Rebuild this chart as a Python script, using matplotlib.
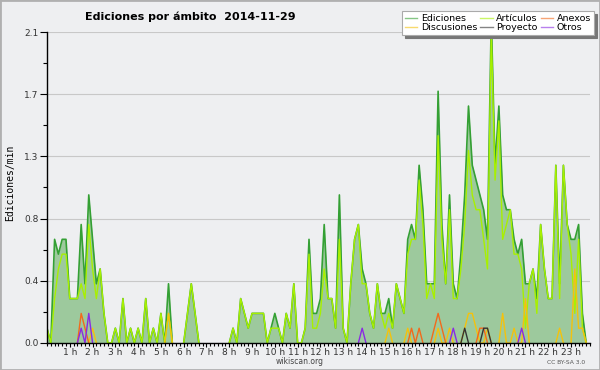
import numpy as np
import matplotlib
matplotlib.use('Agg')
import matplotlib.pyplot as plt
from matplotlib.lines import Line2D
from matplotlib.patches import Rectangle
import matplotlib.transforms as mtransforms

# ediciones/min en tramos de 10 minutos, desde 0:00 hasta 23:40 (dos horas por linea)
ediciones = [
    0.1, 0, 0.7, 0.6, 0.7, 0.7,   0.3, 0.3, 0.3, 0.8, 0.4, 1.0,
    0.7, 0.4, 0.5, 0.2, 0, 0,     0.1, 0, 0.3, 0, 0.1, 0,
    0.1, 0, 0.3, 0, 0.1, 0,       0.2, 0, 0.4, 0, 0, 0,
    0, 0.2, 0.4, 0.2, 0, 0,       0, 0, 0, 0, 0, 0,
    0, 0.1, 0, 0.3, 0.2, 0.1,     0.2, 0.2, 0.2, 0.2, 0, 0.1,
    0.2, 0.1, 0, 0.2, 0.1, 0.4,   0, 0, 0.1, 0.7, 0.2, 0.2,
    0.3, 0.8, 0.3, 0.3, 0.1, 1.0, 0.1, 0, 0.4, 0.7, 0.8, 0.5,
    0.4, 0.2, 0.1, 0.4, 0.2, 0.2, 0.3, 0.1, 0.4, 0.3, 0.2, 0.7,
    0.8, 0.7, 1.2, 0.9, 0.4, 0.4, 0.4, 1.7, 0.8, 0.4, 1.0, 0.4,
    0.3, 0.6, 1.0, 1.6, 1.2, 1.1, 1.0, 0.9, 0.7, 2.2, 1.2, 1.6,
    1.0, 0.9, 0.9, 0.7, 0.6, 0.7, 0.4, 0.4, 0.5, 0.3, 0.8, 0.5,
    0.3, 0.3, 1.2, 0.4, 1.2, 0.8, 0.7, 0.7, 0.8, 0.2, 0,
]
articulos = [
    0.1, 0, 0.3, 0.5, 0.6, 0.6,   0.3, 0.3, 0.3, 0.4, 0.3, 0.8,
    0.5, 0.3, 0.5, 0.2, 0, 0,     0.1, 0, 0.3, 0, 0.1, 0,
    0.1, 0, 0.3, 0, 0.1, 0,       0.2, 0, 0.2, 0, 0, 0,
    0, 0.2, 0.4, 0.2, 0, 0,       0, 0, 0, 0, 0, 0,
    0, 0.1, 0, 0.3, 0.2, 0.1,     0.2, 0.2, 0.2, 0.2, 0, 0.1,
    0.1, 0.1, 0, 0.2, 0.1, 0.4,   0, 0, 0.1, 0.6, 0.1, 0.1,
    0.2, 0.5, 0.3, 0.3, 0.1, 0.7, 0.1, 0, 0.4, 0.7, 0.8, 0.4,
    0.4, 0.2, 0.1, 0.4, 0.2, 0.1, 0.2, 0.1, 0.4, 0.3, 0.2, 0.6,
    0.7, 0.7, 1.1, 0.8, 0.3, 0.4, 0.3, 1.4, 0.7, 0.4, 0.9, 0.3,
    0.3, 0.5, 0.8, 1.3, 1.0, 0.9, 0.9, 0.7, 0.5, 2.1, 1.1, 1.5,
    0.7, 0.8, 0.9, 0.6, 0.6, 0.5, 0.1, 0.4, 0.5, 0.2, 0.8, 0.5,
    0.3, 0.3, 1.2, 0.3, 1.2, 0.8, 0.6, 0.2, 0.7, 0.1, 0,
]
discusiones = [
    0, 0, 0, 0, 0, 0,             0, 0, 0, 0, 0, 0,
    0.1, 0, 0, 0, 0, 0,           0, 0, 0, 0, 0, 0,
    0, 0, 0, 0, 0, 0,             0, 0, 0.2, 0, 0, 0,
    0, 0, 0, 0, 0, 0,             0, 0, 0, 0, 0, 0,
    0, 0, 0, 0, 0, 0,             0, 0, 0, 0, 0, 0,
    0, 0, 0, 0, 0, 0,             0, 0, 0, 0, 0, 0,
    0, 0, 0, 0, 0, 0,             0, 0, 0, 0, 0, 0,
    0, 0, 0, 0, 0, 0,             0.1, 0, 0, 0, 0, 0.1,
    0, 0, 0, 0, 0, 0,             0, 0.1, 0, 0, 0.1, 0,
    0, 0, 0.1, 0.2, 0.2, 0.1,     0, 0, 0.1, 0, 0, 0,
    0.2, 0, 0, 0.1, 0, 0,         0.3, 0, 0, 0, 0, 0,
    0, 0, 0, 0.1, 0, 0,           0, 0.5, 0.1, 0.1, 0,
]
anexos = [
    0, 0, 0, 0, 0, 0,             0, 0, 0, 0.2, 0.1, 0,
    0, 0, 0, 0, 0, 0,             0, 0, 0, 0, 0, 0,
    0, 0, 0, 0, 0, 0,             0, 0, 0, 0, 0, 0,
    0, 0, 0, 0, 0, 0,             0, 0, 0, 0, 0, 0,
    0, 0, 0, 0, 0, 0,             0, 0, 0, 0, 0, 0,
    0, 0, 0, 0, 0, 0,             0, 0, 0, 0, 0, 0,
    0, 0, 0, 0, 0, 0,             0, 0, 0, 0, 0, 0,
    0, 0, 0, 0, 0, 0,             0, 0, 0, 0, 0, 0,
    0.1, 0, 0.1, 0, 0, 0,         0.1, 0.2, 0.1, 0, 0, 0,
    0, 0, 0, 0, 0, 0,             0.1, 0.1, 0, 0, 0, 0,
    0, 0, 0, 0, 0, 0,             0, 0, 0, 0, 0, 0,
    0, 0, 0, 0, 0, 0,             0, 0, 0, 0, 0,
]
proyecto = [
    0, 0, 0, 0, 0, 0,             0, 0, 0, 0, 0, 0,
    0, 0, 0, 0, 0, 0,             0, 0, 0, 0, 0, 0,
    0, 0, 0, 0, 0, 0,             0, 0, 0, 0, 0, 0,
    0, 0, 0, 0, 0, 0,             0, 0, 0, 0, 0, 0,
    0, 0, 0, 0, 0, 0,             0, 0, 0, 0, 0, 0,
    0, 0, 0, 0, 0, 0,             0, 0, 0, 0, 0, 0,
    0, 0, 0, 0, 0, 0,             0, 0, 0, 0, 0, 0,
    0, 0, 0, 0, 0, 0,             0, 0, 0, 0, 0, 0,
    0, 0, 0, 0, 0, 0,             0, 0, 0, 0, 0, 0,
    0, 0, 0.1, 0, 0, 0,           0, 0.1, 0.1, 0, 0, 0,
    0, 0, 0, 0, 0, 0,             0, 0, 0, 0, 0, 0,
    0, 0, 0, 0, 0, 0,             0, 0, 0, 0, 0,
]
otros = [
    0, 0, 0, 0, 0, 0,             0, 0, 0, 0.1, 0, 0.2,
    0, 0, 0, 0, 0, 0,             0, 0, 0, 0, 0, 0,
    0, 0, 0, 0, 0, 0,             0, 0, 0, 0, 0, 0,
    0, 0, 0, 0, 0, 0,             0, 0, 0, 0, 0, 0,
    0, 0, 0, 0, 0, 0,             0, 0, 0, 0, 0, 0,
    0, 0, 0, 0, 0, 0,             0, 0, 0, 0, 0, 0,
    0, 0, 0, 0, 0, 0,             0, 0, 0, 0, 0, 0.1,
    0, 0, 0, 0, 0, 0,             0, 0, 0, 0, 0, 0,
    0, 0, 0, 0, 0, 0,             0, 0, 0, 0, 0, 0.1,
    0, 0, 0, 0, 0, 0,             0, 0, 0, 0, 0, 0,
    0, 0, 0, 0, 0, 0.1,           0, 0, 0, 0, 0, 0,
    0, 0, 0, 0, 0, 0,             0, 0, 0, 0, 0,
]
hour_labels = ['%d h' % h for h in range(1, 24)]
y_max = 2.1

BG = '#eeeff1'


def sparse(v):
    # hide the flat runs at zero, keep the little triangles
    v = np.asarray(v, float)
    keep = v > 0
    keep[1:] |= v[:-1] > 0
    keep[:-1] |= v[1:] > 0
    return np.ma.masked_where(~keep, v)


fig = plt.figure(figsize=(6, 3.7), dpi=100, facecolor=BG)
ax = fig.add_axes([47 / 600, 1 - 343 / 370, 543 / 600, 311 / 370])
ax.set_facecolor(BG)

t = np.arange(len(ediciones)) / 6.0
ax.fill_between(t, ediciones, color='#9dc99d', lw=0, zorder=1)
ax.plot(t, sparse(ediciones), color='#34a034', lw=1.2, zorder=3)
ax.plot(t, sparse(articulos), color='#a8f000', lw=1.0, zorder=4)
series = [(discusiones, '#f4c20d'), (anexos, '#f26a1b'),
          (proyecto, '#333333'), (otros, '#8a2be2')]
for serie, col in series:
    ax.plot(t, sparse(serie), color=col, lw=1.0, zorder=5)

ax.set_xlim(0, (len(ediciones) - 1) / 6.0)
ax.set_ylim(0, y_max)

yt = np.linspace(0, y_max, 6)
ax.set_yticks(yt)
ax.set_yticklabels(['%.1f' % v for v in yt])
ax.set_yticks((yt[:-1] + yt[1:]) / 2, minor=True)
ax.set_xticks(range(1, 24))
ax.set_xticklabels(hour_labels)
ax.set_xticks(np.arange(0, 24, 1 / 6.0), minor=True)
shift = mtransforms.ScaledTranslation(-6 / 100, 0, fig.dpi_scale_trans)
for lab in ax.get_xticklabels():
    lab.set_transform(lab.get_transform() + shift)

ax.tick_params(axis='both', which='both', direction='out', color='black',
               labelsize=6.5, labelcolor='#333333', width=0.8)
ax.tick_params(axis='y', which='major', length=5, pad=1)
ax.tick_params(axis='y', which='minor', length=3)
ax.tick_params(axis='x', which='major', length=3, pad=0.5)
ax.tick_params(axis='x', which='minor', length=2.5)

ax.grid(axis='y', which='major', color='#c8c8c8', lw=0.8)
ax.set_axisbelow(True)
for side in ('top', 'right'):
    ax.spines[side].set_visible(False)
for side in ('left', 'bottom'):
    ax.spines[side].set_zorder(10)
    ax.spines[side].set_linewidth(1.0)

fig.text(85 / 600, 1 - 17 / 370, 'Ediciones por ámbito  2014-11-29',
         fontsize=8, fontweight='bold', ha='left', va='center')
fig.text(10 / 600, 187 / 370, 'Ediciones/min', rotation=90, fontsize=7,
         family='DejaVu Sans Mono', ha='center', va='center')
fig.text(300 / 600, 1 - 362 / 370, 'wikiscan.org', fontsize=5.5,
         color='#444444', ha='center', va='center')
fig.text(566 / 600, 1 - 362 / 370, 'CC BY-SA 3.0', fontsize=4.3,
         color='#555555', ha='center', va='center')

names = ['Ediciones', 'Discusiones', 'Artículos', 'Proyecto', 'Anexos', 'Otros']
colors = ['#34a034', '#f4c20d', '#a8f000', '#333333', '#f26a1b', '#8a2be2']
handles = [Line2D([], [], color=c, lw=1.0, alpha=0.6) for c in colors]
leg = fig.legend(handles, names, ncol=3, loc='upper right',
                 bbox_to_anchor=(594 / 600, 1 - 11 / 370), fontsize=6.8,
                 frameon=True, fancybox=False, shadow={'color': '#777777', 'alpha': 1},
                 edgecolor='#aaaaaa', facecolor='white', framealpha=1,
                 borderpad=0.3, labelspacing=0.05, handlelength=1.3,
                 handletextpad=0.4, columnspacing=0.3, borderaxespad=0)
leg.get_frame().set_linewidth(0.8)

fig.add_artist(Rectangle((0, 0), 1, 1, transform=fig.transFigure, fill=False,
                         edgecolor='#b0b0b0', lw=2))

fig.savefig('out.png', dpi=100, facecolor=BG)
